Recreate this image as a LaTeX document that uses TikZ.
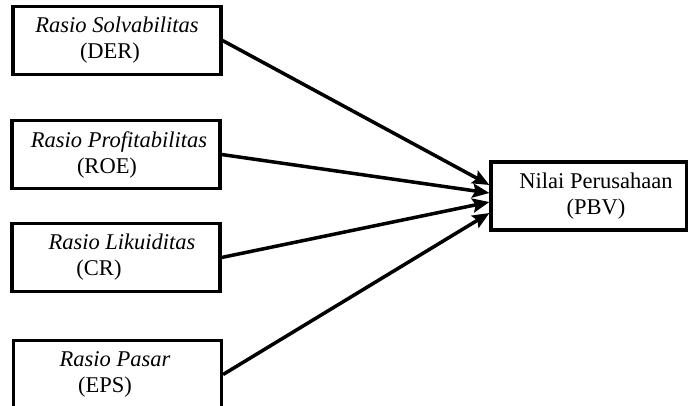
\documentclass[tikz,border=0pt]{standalone}
\usepackage{fontspec}
\setmainfont{Liberation Serif}
\usepackage{tikz}
\usetikzlibrary{arrows.meta}

\begin{document}
\begin{tikzpicture}[x=0.025cm,y=-0.025cm,
    varbox/.style={draw,line width=2.2pt,minimum width=5.2cm,minimum height=1.72cm,align=center,inner sep=0pt,font=\fontsize{16}{18.5}\selectfont},
    pathline/.style={line width=2.5pt,-{Stealth[length=12pt,width=10pt,inset=2pt]}}]
    \clip (0,0) rectangle (688,406);
    %boxes
    \node[varbox] (der) at (117,40.5) {\textit{Rasio Solvabilitas}\\(DER)\hspace*{0.35cm}};
    \node[varbox] (roe) at (116,154.5) {\hspace*{0.15cm}\textit{Rasio Profitabilitas}\\(ROE)\hspace*{0.45cm}};
    \node[varbox] (cr) at (116,257.5) {\hspace*{0.3cm}\textit{Rasio Likuiditas}\\(CR)\hspace*{0.85cm}};
    \node[varbox] (eps) at (117.5,374.5) {\textit{Rasio Pasar}\hspace*{0.125cm}\\(EPS)\hspace*{0.625cm}};
    \node[varbox,minimum width=4.9cm,minimum height=1.7cm] (pbv) at (589,196) {\hspace*{0.35cm}Nilai Perusahaan\\\hspace*{0.35cm}(PBV)};
    %lines
    \draw[pathline] (der.east) -- ([yshift=0.275cm]pbv.west);
    \draw[pathline] (roe.east) -- ([yshift=0.075cm]pbv.west);
    \draw[pathline] (cr.east) -- ([yshift=-0.15cm]pbv.west);
    \draw[pathline] (eps.east) -- ([yshift=-0.425cm]pbv.west);
\end{tikzpicture}
\end{document}
